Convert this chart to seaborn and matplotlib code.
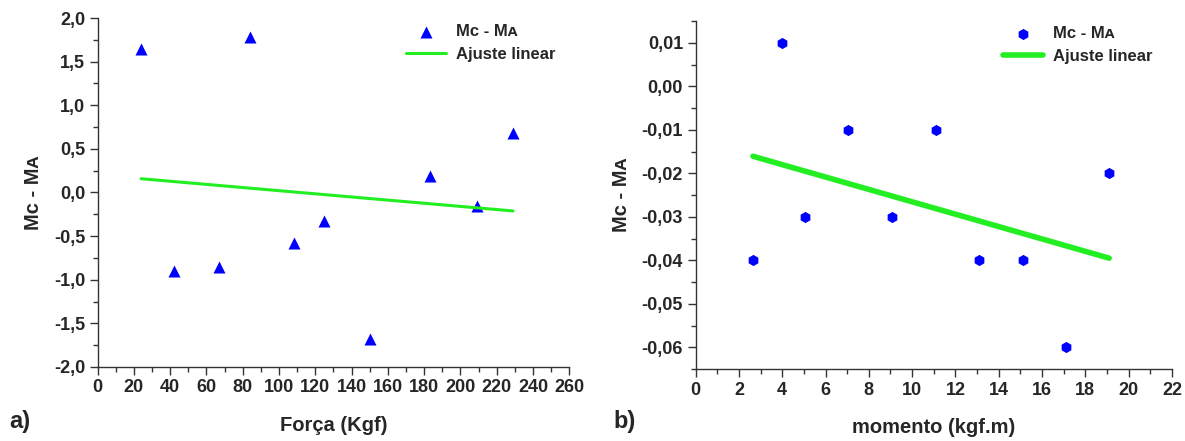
import matplotlib

matplotlib.use("Agg")

import matplotlib.pyplot as plt
import numpy as np
import pandas as pd
import seaborn as sns
from matplotlib.ticker import AutoMinorLocator, FuncFormatter, MultipleLocator

# panel a) force vs moment difference
forca = [24, 42, 67, 84, 108, 125, 150, 183, 209, 229]
dif_a = [1.65, -0.90, -0.85, 1.78, -0.575, -0.33, -1.68, 0.19, -0.155, 0.68]

# panel b) moment vs moment difference
momento = [2.65, 4.0, 5.05, 7.05, 9.05, 11.1, 13.1, 15.1, 17.1, 19.1]
dif_b = [-0.04, 0.01, -0.03, -0.01, -0.03, -0.01, -0.04, -0.04, -0.06, -0.02]

label_pts = "Mc - Mᴀ"
label_fit = "Ajuste linear"

sns.set_theme(style="ticks")
plt.rcParams["font.family"] = ["Liberation Sans", "DejaVu Sans"]
plt.rcParams["font.weight"] = "bold"
plt.rcParams["axes.labelweight"] = "bold"

BLUE = "#0000ff"
GREEN = "#22ee22"


def comma_fmt(decimals):
    def fmt(v, _pos):
        v = round(v, decimals)
        if abs(v) < 1e-12:
            v = 0.0
        return f"{v:.{decimals}f}".replace(".", ",")
    return FuncFormatter(fmt)


def style_axis(axis):
    sns.despine(ax=axis)
    for side in ("left", "bottom"):
        axis.spines[side].set_color("#333333")
        axis.spines[side].set_linewidth(1.0)
    axis.xaxis.set_minor_locator(AutoMinorLocator(2))
    axis.yaxis.set_minor_locator(AutoMinorLocator(2))
    axis.tick_params(which="major", direction="out", length=6, width=1.0,
                     color="#333333", labelsize=13, pad=3)
    axis.tick_params(which="minor", direction="out", length=3.5, width=1.0,
                     color="#333333")
    for lab in axis.get_xticklabels() + axis.get_yticklabels():
        lab.set_fontweight("bold")


figure = plt.figure(figsize=(11.85, 4.41), dpi=100)
ax_a = figure.add_axes([0.0824, 0.168, 0.398, 0.791])
ax_b = figure.add_axes([0.587, 0.163, 0.402, 0.789])

frame_a = pd.DataFrame({"x": forca, "y": dif_a})
sns.scatterplot(data=frame_a, x="x", y="y", marker="^", s=75, color=BLUE,
                edgecolor=BLUE, linewidth=0, label=label_pts, ax=ax_a)
sns.regplot(data=frame_a, x="x", y="y", scatter=False, ci=None, truncate=True,
            label=label_fit, line_kws={"color": GREEN, "lw": 2.2}, ax=ax_a)
ax_a.set_xlim(0, 260)
ax_a.set_ylim(-2.0, 2.0)
ax_a.xaxis.set_major_locator(MultipleLocator(20))
ax_a.yaxis.set_major_locator(MultipleLocator(0.5))
ax_a.yaxis.set_major_formatter(comma_fmt(1))
ax_a.set_xlabel("Força (Kgf)", fontsize=14.5, fontweight="bold", labelpad=14)
ax_a.set_ylabel(label_pts, fontsize=14.5, fontweight="bold", labelpad=8)
style_axis(ax_a)

frame_b = pd.DataFrame({"x": momento, "y": dif_b})
sns.scatterplot(data=frame_b, x="x", y="y", marker="h", s=65, color=BLUE,
                edgecolor=BLUE, linewidth=0, label=label_pts, ax=ax_b)
sns.regplot(data=frame_b, x="x", y="y", scatter=False, ci=None, truncate=True,
            label=label_fit, line_kws={"color": GREEN, "lw": 4}, ax=ax_b)
ax_b.set_xlim(0, 22)
ax_b.set_ylim(-0.065, 0.015)
ax_b.xaxis.set_major_locator(MultipleLocator(2))
ax_b.yaxis.set_major_locator(MultipleLocator(0.01))
ax_b.yaxis.set_major_formatter(comma_fmt(2))
ax_b.set_xlabel("momento (kgf.m)", fontsize=14.5, fontweight="bold", labelpad=14)
ax_b.set_ylabel(label_pts, fontsize=14.5, fontweight="bold", labelpad=8)
style_axis(ax_b)

ax_a.legend(loc="upper right", bbox_to_anchor=(1.003, 1.025), frameon=False,
            prop={"weight": "bold", "size": 12}, handlelength=2.4,
            handletextpad=0.6, labelspacing=0.45)
ax_b.legend(loc="upper right", bbox_to_anchor=(0.99, 1.028), frameon=False,
            prop={"weight": "bold", "size": 12}, handlelength=2.4,
            handletextpad=0.6, labelspacing=0.45)

figure.text(0.008, 0.03, "a)", fontsize=17, fontweight="bold")
figure.text(0.518, 0.03, "b)", fontsize=17, fontweight="bold")

figure.savefig("out.png", dpi=100)
plt.close(figure)
